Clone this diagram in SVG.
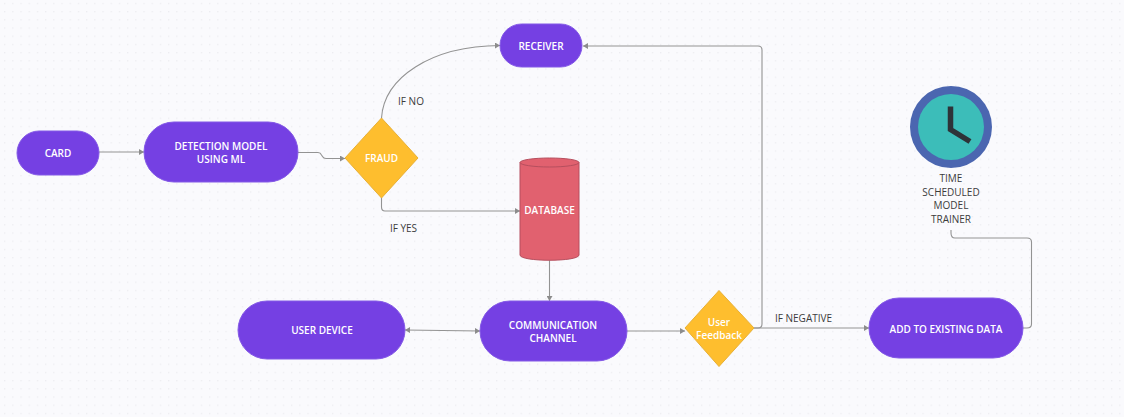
<svg xmlns="http://www.w3.org/2000/svg" width="1124" height="417" viewBox="0 0 1124 417">
<style>
.n{fill:#7540e3;stroke:#8358e6;stroke-width:1}
.d{fill:#febe2e;stroke:#e8b035;stroke-width:1}
.w{fill:#fff;font:600 10px "Open Sans","Noto Sans",sans-serif;text-anchor:middle}
.k{fill:#3c3c3c;font:10px "Open Sans","Noto Sans",sans-serif;text-anchor:middle}
.c{fill:none;stroke:#939393;stroke-width:1.1}
</style>
<defs>
<pattern id="dots" width="8.2" height="8.2" patternUnits="userSpaceOnUse" x="4" y="2.800"><rect x="0" y="0" width="1.300" height="1.300" fill="#ececf0"/></pattern>
<marker id="a" markerWidth="6" markerHeight="6" refX="5" refY="3" orient="auto" markerUnits="userSpaceOnUse"><path d="M0 0L5 3L0 6Z" fill="#8c8c8c"/></marker>
<marker id="s" markerWidth="6" markerHeight="6" refX="0" refY="3" orient="auto" markerUnits="userSpaceOnUse"><path d="M5 0L0 3L5 6Z" fill="#8c8c8c"/></marker>
</defs>
<rect width="1124" height="417" fill="#fafafd"/>
<rect width="1124" height="417" fill="url(#dots)"/>
<g id="connectors">
<path class="c" marker-end="url(#a)" d="M99 152H144"/>
<path class="c" marker-end="url(#a)" d="M298 152.500H318Q320.500 152.500 321.500 155L322.500 156.500Q323.500 158.500 326 158.500H345"/>
<path class="c" marker-end="url(#a)" d="M381.500 118C384 78 430 46 500 45.500"/>
<path class="c" marker-end="url(#a)" d="M381.500 198V207Q381.500 211 385 211H520"/>
<path class="c" marker-end="url(#a)" d="M549.500 260V301"/>
<path class="c" marker-start="url(#s)" marker-end="url(#a)" d="M405 330L480 331"/>
<path class="c" marker-end="url(#a)" d="M627 331H685"/>
<path class="c" marker-end="url(#a)" d="M754 328H758Q762 328 762 324V50Q762 46 758 46H583"/>
<path class="c" marker-end="url(#a)" d="M754 328H869"/>
<path class="c" d="M1023 328H1027Q1031.500 328 1031.500 324V242Q1031.500 238 1027 238H955Q951 238 951 233V230"/>
</g>
<g id="card"><rect class="n" x="17" y="131" width="82" height="44" rx="22"/><text class="w" x="58" y="157">CARD</text></g>
<g id="detection"><rect class="n" x="144" y="122" width="154" height="60" rx="30"/><text class="w" x="221" y="150">DETECTION MODEL</text><text class="w" x="221" y="163">USING ML</text></g>
<g id="fraud"><path class="d" d="M381.500 118L418 158L381.500 198L345 158Z"/><text class="w" x="381.500" y="162">FRAUD</text></g>
<g id="receiver"><rect class="n" x="500" y="24" width="82" height="43" rx="21.500"/><text class="w" x="541" y="50">RECEIVER</text></g>
<g id="database"><path d="M520 162.500V255C520 262 579 262 579 255V162.500Z" fill="#e1616f" stroke="#b64f5e"/><ellipse cx="549.500" cy="162.500" rx="29.500" ry="4.500" fill="#e1616f" stroke="#b64f5e"/><text class="w" x="549.500" y="214">DATABASE</text></g>
<g id="user-device"><rect class="n" x="238" y="301" width="167" height="58" rx="29"/><text class="w" x="322" y="334">USER DEVICE</text></g>
<g id="communication"><rect class="n" x="480" y="301" width="147" height="60" rx="30"/><text class="w" x="553" y="329">COMMUNICATION</text><text class="w" x="553" y="342">CHANNEL</text></g>
<g id="feedback"><path class="d" d="M719 290.500L754 328L719 366.500L685 328Z"/><text class="w" x="719" y="326">User</text><text class="w" x="719" y="339">Feedback</text></g>
<g id="add-data"><rect class="n" x="869" y="298" width="154" height="60" rx="30"/><text class="w" x="946" y="333">ADD TO EXISTING DATA</text></g>
<g id="clock"><circle cx="951" cy="127" r="41" fill="#4b66b0"/><circle cx="951" cy="127" r="33" fill="#3cbdb9"/><path d="M950.500 106.500V129.500L970 141.500" fill="none" stroke="#2e3338" stroke-width="5.500"/><text class="k" x="951" y="182">TIME</text><text class="k" x="951" y="196">SCHEDULED</text><text class="k" x="951" y="209">MODEL</text><text class="k" x="951" y="223">TRAINER</text></g>
<g id="labels"><text class="k" x="411" y="105">IF NO</text><text class="k" x="403.500" y="232">IF YES</text><text class="k" x="803.500" y="322">IF NEGATIVE</text></g>
</svg>
